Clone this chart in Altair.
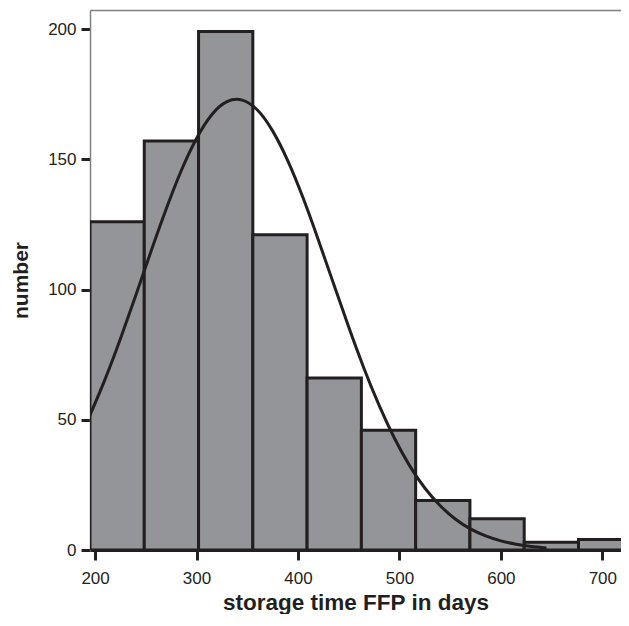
import altair as alt
import pandas as pd

# histogram bins (days) and counts
bin_start = [195, 248.5, 302, 355.5, 409, 462.5, 516, 569.5, 623, 676.5]
bin_end = [248.5, 302, 355.5, 409, 462.5, 516, 569.5, 623, 676.5, 730]
counts = [126, 157, 199, 121, 66, 46, 19, 12, 3, 4]

# fitted normal curve
curve_x = [195, 210, 225, 240, 255, 270, 285, 300, 315, 330, 345, 360, 375, 390,
           405, 420, 435, 450, 465, 480, 495, 510, 525, 540, 555, 570, 585, 600,
           615, 630, 645]
curve_y = [51.8, 65.7, 81.1, 97.6, 114.5, 130.8, 145.7, 158.0, 167.1, 172.1, 172.7,
           168.9, 160.9, 149.4, 135.2, 119.1, 102.3, 85.6, 69.8, 55.5, 43.0, 32.4,
           23.8, 17.1, 11.9, 8.1, 5.4, 3.5, 2.2, 1.3, 0.8]

x_ticks = [200, 300, 400, 500, 600, 700]
y_ticks = [0, 50, 100, 150, 200]

bars_df = pd.DataFrame({"start": bin_start, "end": bin_end, "count": counts})
curve_df = pd.DataFrame({"x": curve_x, "y": curve_y})

INK = "#231f20"
FONT = "Liberation Sans"

xscale = alt.Scale(domain=[195, 718.4], nice=False, zero=False)
yscale = alt.Scale(domain=[0, 207.3], nice=False)

bars = alt.Chart(bars_df).mark_bar(
    fill="#939598", stroke=INK, strokeWidth=3, clip=True
).encode(
    x=alt.X("start:Q", scale=xscale,
            axis=alt.Axis(values=x_ticks, title="storage time FFP in days",
                          orient="bottom", domainColor=INK, domainWidth=3,
                          tickColor=INK, tickWidth=3, tickSize=10,
                          labelFont=FONT, labelFontSize=17, labelColor=INK,
                          labelPadding=10, grid=False,
                          titleFont=FONT, titleFontSize=22.5, titleFontWeight="bold",
                          titleColor=INK, titleBaseline="alphabetic", titleY=59)),
    x2="end:Q",
    y=alt.Y("count:Q", scale=yscale,
            axis=alt.Axis(values=y_ticks, title="number",
                          domainColor="#808080", domainWidth=1.5,
                          tickColor=INK, tickWidth=3, tickSize=9,
                          labelFont=FONT, labelFontSize=17, labelColor=INK,
                          labelPadding=5, grid=False,
                          titleFont=FONT, titleFontSize=21, titleFontWeight="bold",
                          titleColor=INK, titlePadding=16)),
    y2=alt.datum(0),
)

curve = alt.Chart(curve_df).mark_line(
    color=INK, strokeWidth=3, interpolate="natural", clip=True
).encode(
    x=alt.X("x:Q", scale=xscale,
            axis=alt.Axis(orient="top", labels=False, ticks=False, title=None,
                          domainColor="#808080", domainWidth=1.5, grid=False)),
    y=alt.Y("y:Q", scale=yscale),
)

chart = alt.layer(bars, curve).resolve_axis(x="independent").properties(
    width=531, height=540,
    autosize=alt.AutoSizeParams(type="none"),
    padding={"left": 82, "top": 2, "right": 0, "bottom": 64},
    background="white",
).configure_view(stroke=None)

chart.save("out.html", embed_options={"renderer": "svg", "actions": False})
